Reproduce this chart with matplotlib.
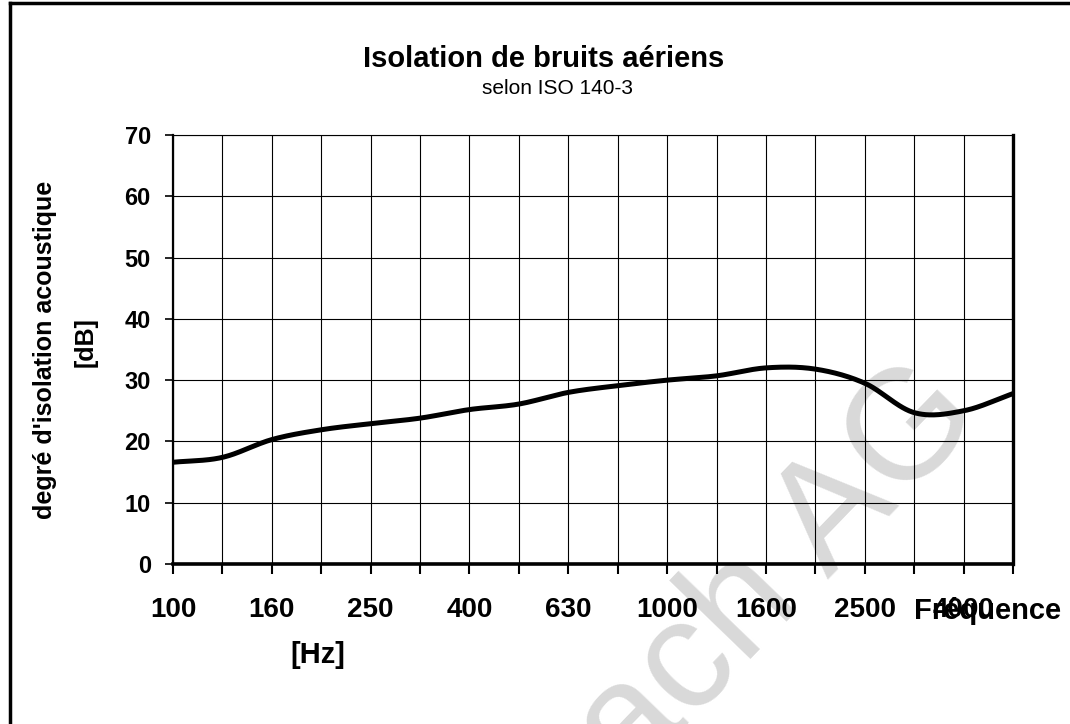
import numpy as np
import matplotlib
matplotlib.use("Agg")
import matplotlib.pyplot as plt
from matplotlib.lines import Line2D

# --------------------- Data ------------------------
freqs = ["100", "125", "160", "200", "250", "315", "400", "500", "630", "800",
         "1000", "1250", "1600", "2000", "2500", "3150", "4000", "5000"]
isolation_db = [16.6, 17.4, 20.3, 21.9, 22.9, 23.8, 25.2, 26.1, 28.0, 29.1,
                30.0, 30.7, 32.0, 31.8, 29.5, 24.7, 25.0, 27.8]
y_ticks = [0, 10, 20, 30, 40, 50, 60, 70]


def smooth_line(x, y, n=30):
    """Catmull-Rom style smoothing, like a spreadsheet 'smoothed line'."""
    x = np.asarray(x, float)
    y = np.asarray(y, float)
    m = np.zeros_like(y)
    m[1:-1] = (y[2:] - y[:-2]) / 2.0
    m[0] = y[1] - y[0]
    m[-1] = y[-1] - y[-2]
    xs, ys = [], []
    for i in range(len(x) - 1):
        t = np.linspace(0, 1, n, endpoint=False)
        h00 = 2 * t**3 - 3 * t**2 + 1
        h10 = t**3 - 2 * t**2 + t
        h01 = -2 * t**3 + 3 * t**2
        h11 = t**3 - t**2
        xs.append(x[i] + t * (x[i + 1] - x[i]))
        ys.append(h00 * y[i] + h10 * m[i] + h01 * y[i + 1] + h11 * m[i + 1])
    xs.append([x[-1]])
    ys.append([y[-1]])
    return np.concatenate(xs), np.concatenate(ys)


plt.rcParams['font.family'] = ['Liberation Sans', 'DejaVu Sans']

fig = plt.figure(figsize=(10.7, 7.24), dpi=100)
ax = fig.add_axes([173 / 1070, 1 - 564 / 724, 840 / 1070, 429 / 724])
ax.set_facecolor("none")

pos = np.arange(len(freqs))
sx, sy = smooth_line(pos, isolation_db)
ax.plot(sx, sy, color="black", lw=3.6, solid_capstyle="butt", zorder=3)

ax.set_xlim(0, len(freqs) - 1)
ax.set_ylim(0, 70)
ax.set_xticks(pos)
ax.set_xticklabels([f if i % 2 == 0 else "" for i, f in enumerate(freqs)],
                   fontsize=20, fontweight="bold")
ax.set_yticks(y_ticks)
ax.set_yticklabels([str(v) for v in y_ticks], fontsize=17, fontweight="bold")
ax.tick_params(axis="x", direction="out", length=7, width=1.5, pad=17)
ax.tick_params(axis="y", direction="out", length=6, width=1.2, pad=10)
ax.grid(True, color="black", lw=0.8)
ax.set_axisbelow(True)

for side, w in [("left", 1.6), ("bottom", 2.6), ("right", 2.4), ("top", 0.8)]:
    ax.spines[side].set_linewidth(w)

# Titles and labels
fig.text(544 / 1070, 1 - 59 / 724, "Isolation de bruits aériens", ha="center", va="center",
         fontsize=21, fontweight="bold")
fig.text(557 / 1070, 1 - 88 / 724, "selon ISO 140-3", ha="center", va="center", fontsize=15)
fig.text(45 / 1070, 1 - 350 / 724, "degré d'isolation acoustique", rotation=90,
         ha="center", va="center", fontsize=18, fontweight="bold")
fig.text(86 / 1070, 1 - 342 / 724, "[dB]", rotation=90,
         ha="center", va="center", fontsize=18, fontweight="bold")
fig.text(318 / 1070, 1 - 655 / 724, "[Hz]", ha="center", va="center",
         fontsize=21, fontweight="bold")
fig.text(914 / 1070, 1 - 611 / 724, "Fréquence", ha="left", va="center",
         fontsize=21, fontweight="bold")

# Watermark (behind the axes contents)
fig.text(630 / 1070, 1 - 785 / 724, "ach AG", rotation=46, rotation_mode="anchor",
         ha="left", va="baseline", fontsize=112, color="#d9d9d9", zorder=-1)

# Outer frame (top and left edges visible)
fig.add_artist(Line2D([10 / 1070, 10 / 1070], [0, 1 - 3 / 724], color="black", lw=2.5))
fig.add_artist(Line2D([10 / 1070, 1], [1 - 3 / 724, 1 - 3 / 724], color="black", lw=2.5))

fig.savefig("out.png", dpi=100)
